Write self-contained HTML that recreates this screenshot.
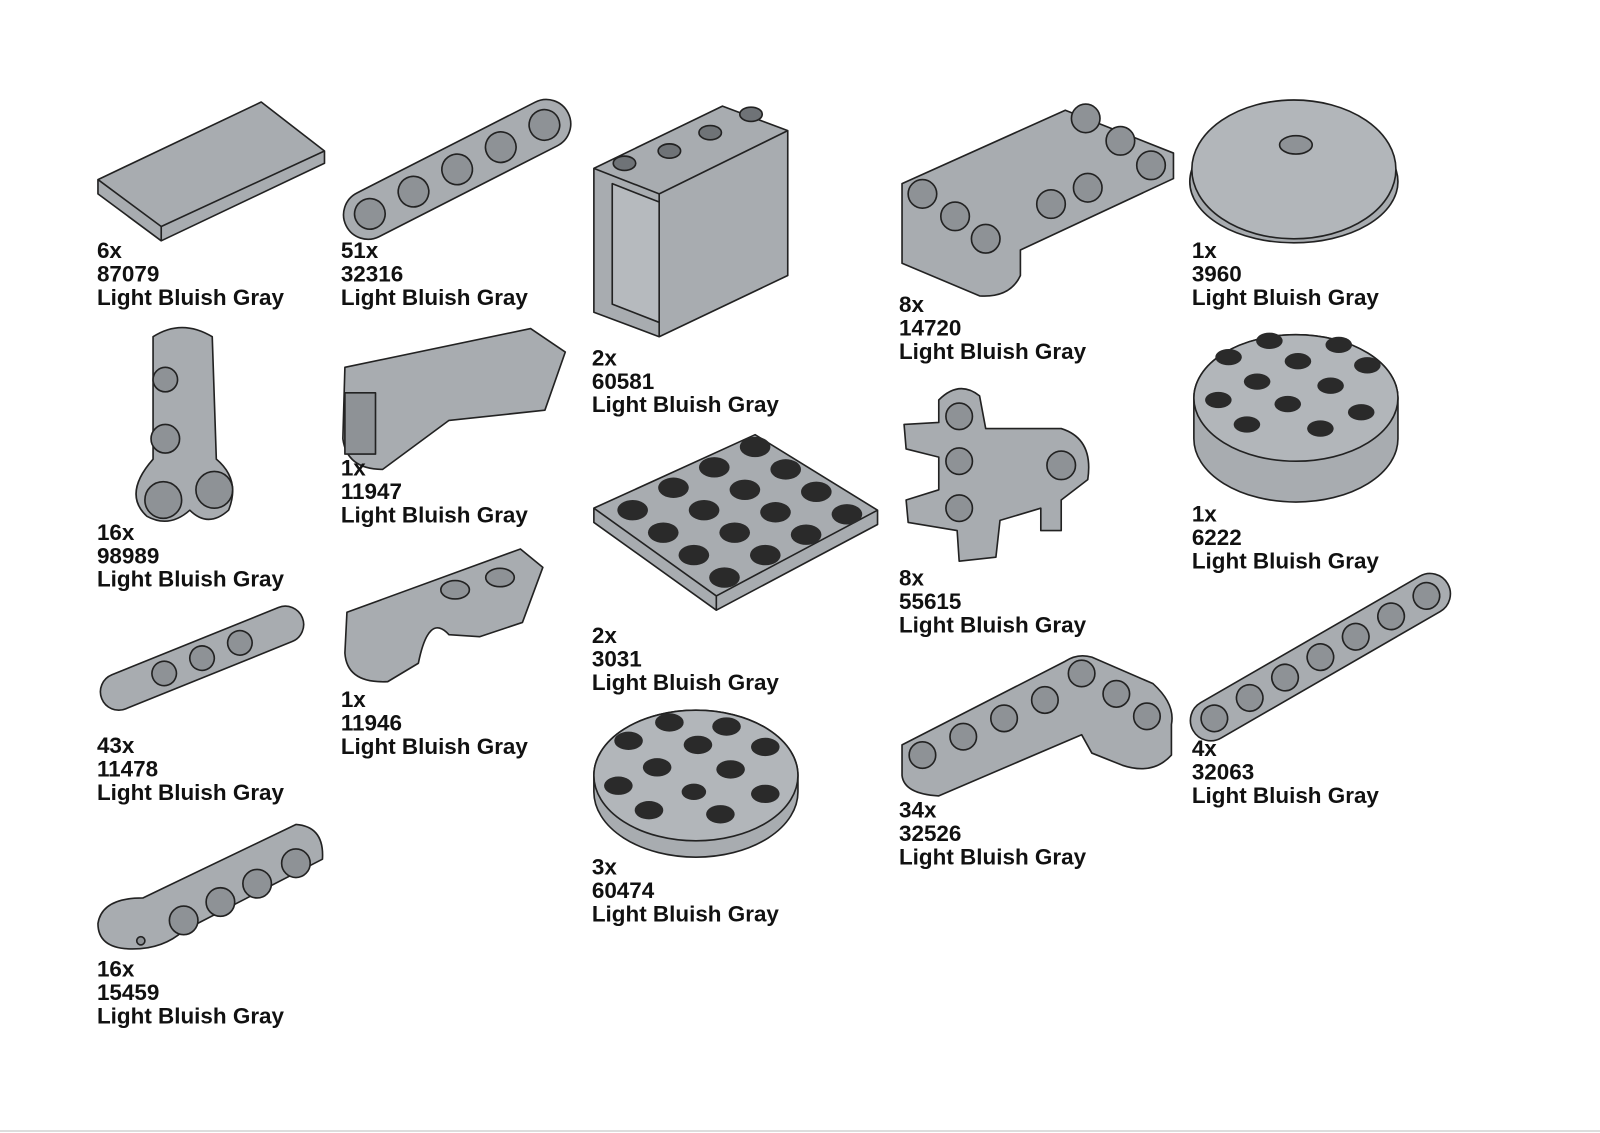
<!DOCTYPE html>
<html><head><meta charset="utf-8"><style>
html,body{margin:0;padding:0;background:#fff;}
body{width:1600px;height:1132px;position:relative;overflow:hidden;font-family:"Liberation Sans",sans-serif;}
#w{position:absolute;left:0;top:0;width:1568px;height:1110px;transform:scale(1.0204);transform-origin:0 0;}
.l{position:absolute;font-weight:bold;font-size:22px;line-height:23px;color:#111;white-space:nowrap;}
svg{position:absolute;left:0;top:0;}
.bar{position:absolute;left:0;top:1130px;width:1600px;height:2px;background:#ddd;}
</style></head><body>
<div id="w">
<svg width="1568" height="1110" viewBox="0 0 1568 1110">
<g stroke="#222" stroke-width="1.6" fill="#a8acb0" stroke-linejoin="round">
<polygon points="96,176 256,100 318,148 318,160 158,236 96,190"/>
<polyline points="96,176 158,222 318,148" fill="none"/><line x1="158" y1="222" x2="158" y2="236"/>
<g transform="translate(448,166) rotate(-27)"><rect x="-122" y="-24" width="244" height="48" rx="24"/>
<g fill="#8e9296"><circle cx="-96" r="15"/><circle cx="-48" r="15"/><circle cx="0" r="15"/><circle cx="48" r="15"/><circle cx="96" r="15"/></g></g>
<polygon points="582,165 708,104 772,128 772,270 646,330 582,306"/>
<polyline points="582,165 646,190 772,128" fill="none"/><line x1="646" y1="190" x2="646" y2="330"/>
<polygon points="600,180 646,198 646,316 600,298" fill="#b6babe"/>
<g fill="#6f7377"><ellipse cx="612" cy="160" rx="11" ry="7"/><ellipse cx="656" cy="148" rx="11" ry="7"/><ellipse cx="696" cy="130" rx="11" ry="7"/><ellipse cx="736" cy="112" rx="11" ry="7"/></g>
<path d="M884,180 L1044,108 L1150,150 L1150,175 L1000,245 L1000,270 Q990,292 960,290 L884,258 Z"/>
<g fill="#8e9296"><circle cx="904" cy="190" r="14"/><circle cx="936" cy="212" r="14"/><circle cx="966" cy="234" r="14"/><circle cx="1030" cy="200" r="14"/><circle cx="1066" cy="184" r="14"/><circle cx="1064" cy="116" r="14"/><circle cx="1098" cy="138" r="14"/><circle cx="1128" cy="162" r="14"/></g>
<ellipse cx="1268" cy="178" rx="102" ry="60"/><ellipse cx="1268" cy="166" rx="100" ry="68" fill="#b2b6ba"/>
<ellipse cx="1270" cy="142" rx="16" ry="9" fill="#8e9296"/>
<path d="M150,330 Q178,312 208,330 L212,450 Q236,470 224,500 Q204,518 186,500 Q166,518 144,506 Q120,484 150,450 Z"/>
<g fill="#8e9296"><circle cx="162" cy="372" r="12"/><circle cx="162" cy="430" r="14"/><circle cx="160" cy="490" r="18"/><circle cx="210" cy="480" r="18"/></g>
<path d="M338,360 L520,322 L554,345 L534,402 L440,412 L375,460 Q340,460 336,430 Z"/>
<rect x="338" y="385" width="30" height="60" fill="#8e9296"/>
<polygon points="582,498 740,426 860,500 860,514 702,598 582,512"/>
<polyline points="582,498 702,584 860,500" fill="none"/><line x1="702" y1="584" x2="702" y2="598"/>
<g fill="#2a2a2a" stroke="none">
<ellipse cx="620" cy="500" rx="15" ry="10"/><ellipse cx="660" cy="478" rx="15" ry="10"/><ellipse cx="700" cy="458" rx="15" ry="10"/><ellipse cx="740" cy="438" rx="15" ry="10"/>
<ellipse cx="650" cy="522" rx="15" ry="10"/><ellipse cx="690" cy="500" rx="15" ry="10"/><ellipse cx="730" cy="480" rx="15" ry="10"/><ellipse cx="770" cy="460" rx="15" ry="10"/>
<ellipse cx="680" cy="544" rx="15" ry="10"/><ellipse cx="720" cy="522" rx="15" ry="10"/><ellipse cx="760" cy="502" rx="15" ry="10"/><ellipse cx="800" cy="482" rx="15" ry="10"/>
<ellipse cx="710" cy="566" rx="15" ry="10"/><ellipse cx="750" cy="544" rx="15" ry="10"/><ellipse cx="790" cy="524" rx="15" ry="10"/><ellipse cx="830" cy="504" rx="15" ry="10"/></g>
<path d="M920,392 Q940,372 960,388 L966,420 L1040,420 Q1072,430 1066,470 L1040,490 L1040,520 L1020,520 L1020,498 L980,510 L976,546 L940,550 L938,520 L890,512 L888,490 L920,480 L920,448 L888,440 L886,416 L920,414 Z"/>
<g fill="#8e9296"><circle cx="940" cy="408" r="13"/><circle cx="940" cy="452" r="13"/><circle cx="940" cy="498" r="13"/><circle cx="1040" cy="456" r="14"/></g>
<path d="M1170,390 A100,62 0 0 1 1370,390 L1370,430 A100,62 0 0 1 1170,430 Z"/>
<ellipse cx="1270" cy="390" rx="100" ry="62" fill="#b2b6ba"/>
<g fill="#2a2a2a" stroke="none">
<ellipse cx="1244" cy="334" rx="13" ry="8"/><ellipse cx="1312" cy="338" rx="13" ry="8"/><ellipse cx="1204" cy="350" rx="13" ry="8"/><ellipse cx="1272" cy="354" rx="13" ry="8"/><ellipse cx="1340" cy="358" rx="13" ry="8"/>
<ellipse cx="1232" cy="374" rx="13" ry="8"/><ellipse cx="1304" cy="378" rx="13" ry="8"/><ellipse cx="1194" cy="392" rx="13" ry="8"/><ellipse cx="1262" cy="396" rx="13" ry="8"/><ellipse cx="1334" cy="404" rx="13" ry="8"/>
<ellipse cx="1222" cy="416" rx="13" ry="8"/><ellipse cx="1294" cy="420" rx="13" ry="8"/></g>
<g transform="translate(198,645) rotate(-22)"><rect x="-106" y="-18" width="212" height="36" rx="18"/>
<g fill="#8e9296"><circle cx="-40" r="12"/><circle cx="0" r="12"/><circle cx="40" r="12"/></g></g>
<path d="M340,600 L510,538 L532,556 L512,610 L470,624 L440,622 Q420,600 410,650 L380,668 Q340,670 338,640 Z"/>
<g fill="#8e9296"><ellipse cx="446" cy="578" rx="14" ry="9"/><ellipse cx="490" cy="566" rx="14" ry="9"/></g>
<path d="M582,760 A100,64 0 0 1 782,760 L782,776 A100,64 0 0 1 582,776 Z"/>
<ellipse cx="682" cy="760" rx="100" ry="64" fill="#b2b6ba"/>
<g fill="#2a2a2a" stroke="none">
<ellipse cx="656" cy="708" rx="14" ry="9"/><ellipse cx="712" cy="712" rx="14" ry="9"/><ellipse cx="616" cy="726" rx="14" ry="9"/><ellipse cx="684" cy="730" rx="14" ry="9"/><ellipse cx="750" cy="732" rx="14" ry="9"/>
<ellipse cx="644" cy="752" rx="14" ry="9"/><ellipse cx="716" cy="754" rx="14" ry="9"/><ellipse cx="606" cy="770" rx="14" ry="9"/><ellipse cx="750" cy="778" rx="14" ry="9"/>
<ellipse cx="636" cy="794" rx="14" ry="9"/><ellipse cx="706" cy="798" rx="14" ry="9"/><ellipse cx="680" cy="776" rx="12" ry="8"/></g>
<path d="M884,730 L1044,648 Q1056,640 1070,644 L1130,670 Q1152,690 1148,710 L1148,740 Q1130,760 1100,750 L1070,738 L1060,720 L920,780 Q886,778 884,760 Z"/>
<g fill="#8e9296"><circle cx="904" cy="740" r="13"/><circle cx="944" cy="722" r="13"/><circle cx="984" cy="704" r="13"/><circle cx="1024" cy="686" r="13"/><circle cx="1060" cy="660" r="13"/><circle cx="1094" cy="680" r="13"/><circle cx="1124" cy="702" r="13"/></g>
<g transform="translate(1294,644) rotate(-30)"><rect x="-144" y="-20" width="288" height="40" rx="20"/>
<g fill="#8e9296"><circle cx="-120" r="13"/><circle cx="-80" r="13"/><circle cx="-40" r="13"/><circle cx="0" r="13"/><circle cx="40" r="13"/><circle cx="80" r="13"/><circle cx="120" r="13"/></g></g>
<path d="M140,880 L290,808 Q318,810 316,842 L180,912 Q160,930 130,930 Q96,930 96,905 Q100,880 140,880 Z"/>
<g fill="#8e9296"><circle cx="180" cy="902" r="14"/><circle cx="216" cy="884" r="14"/><circle cx="252" cy="866" r="14"/><circle cx="290" cy="846" r="14"/><circle cx="138" cy="922" r="4"/></g>
</g>
</svg>
<div class="l" style="left:95px;top:234px">6x<br>87079<br>Light Bluish Gray</div>
<div class="l" style="left:334px;top:234px">51x<br>32316<br>Light Bluish Gray</div>
<div class="l" style="left:580px;top:339px">2x<br>60581<br>Light Bluish Gray</div>
<div class="l" style="left:881px;top:287px">8x<br>14720<br>Light Bluish Gray</div>
<div class="l" style="left:1168px;top:234px">1x<br>3960<br>Light Bluish Gray</div>
<div class="l" style="left:95px;top:510px">16x<br>98989<br>Light Bluish Gray</div>
<div class="l" style="left:334px;top:447px">1x<br>11947<br>Light Bluish Gray</div>
<div class="l" style="left:580px;top:611px">2x<br>3031<br>Light Bluish Gray</div>
<div class="l" style="left:881px;top:555px">8x<br>55615<br>Light Bluish Gray</div>
<div class="l" style="left:1168px;top:492px">1x<br>6222<br>Light Bluish Gray</div>
<div class="l" style="left:95px;top:719px">43x<br>11478<br>Light Bluish Gray</div>
<div class="l" style="left:334px;top:674px">1x<br>11946<br>Light Bluish Gray</div>
<div class="l" style="left:580px;top:838px">3x<br>60474<br>Light Bluish Gray</div>
<div class="l" style="left:881px;top:782px">34x<br>32526<br>Light Bluish Gray</div>
<div class="l" style="left:1168px;top:722px">4x<br>32063<br>Light Bluish Gray</div>
<div class="l" style="left:95px;top:938px">16x<br>15459<br>Light Bluish Gray</div>
</div>
<div class="bar"></div>
</body></html>
